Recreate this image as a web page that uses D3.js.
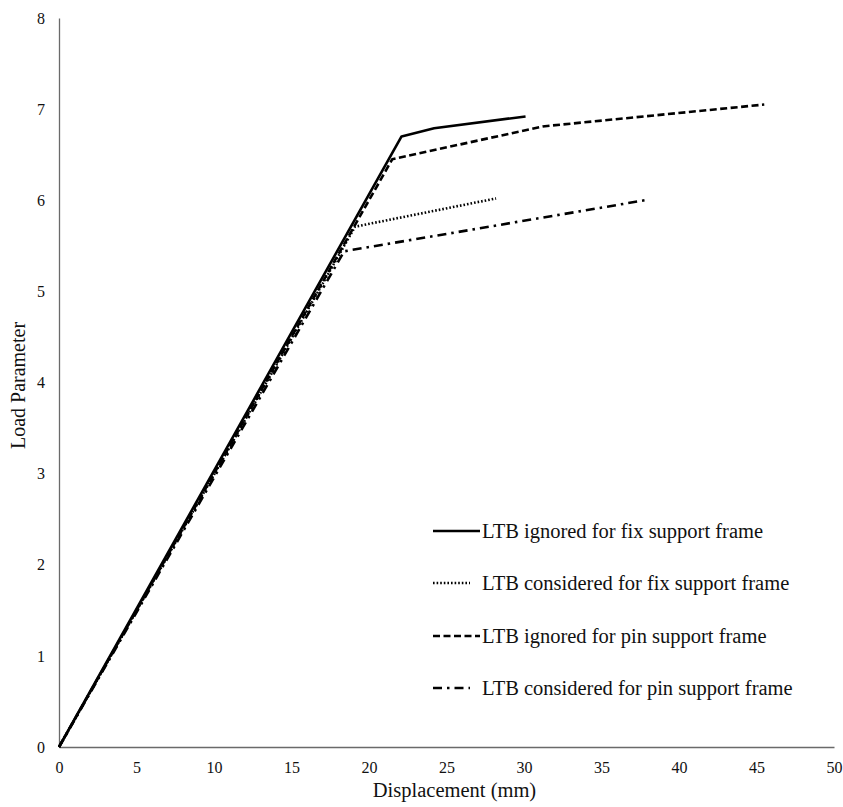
<!DOCTYPE html>
<html>
<head>
  <meta charset="utf-8">
  <script src="https://d3js.org/d3.v7.min.js"></script>
  <style>
  body { margin: 0; background: #ffffff; }
  * { font-family: "Liberation Serif", "Times New Roman", serif; }
  </style>
</head>
<body>
<div id="chart"></div>
<script>
// tick values
const xTicks = [0, 5, 10, 15, 20, 25, 30, 35, 40, 45, 50];
const yTicks = [0, 1, 2, 3, 4, 5, 6, 7, 8];

// series (displacement mm, load parameter)
const fixIgnoredX    = [0, 22.1, 24.2, 30.1];
const fixIgnoredY    = [0, 6.70, 6.79, 6.92];
const fixConsideredX = [0, 19.1, 28.2];
const fixConsideredY = [0, 5.71, 6.02];
const pinIgnoredX    = [0, 21.5, 31.2, 45.5];
const pinIgnoredY    = [0, 6.45, 6.81, 7.05];
const pinConsideredX = [0, 18.4, 37.8];
const pinConsideredY = [0, 5.44, 6.00];

const seriesNames = [
  "LTB ignored for fix support frame",
  "LTB considered for fix support frame",
  "LTB ignored for pin support frame",
  "LTB considered for pin support frame"
];

const series = [
  { name: seriesNames[0], xs: fixIgnoredX,    ys: fixIgnoredY,    dash: null,          cap: "butt" },
  { name: seriesNames[1], xs: fixConsideredX, ys: fixConsideredY, dash: "1.6,2",       cap: "butt" },
  { name: seriesNames[2], xs: pinIgnoredX,    ys: pinIgnoredY,    dash: "7,3.5",       cap: "butt" },
  { name: seriesNames[3], xs: pinConsideredX, ys: pinConsideredY, dash: "9,5,2.5,5",   cap: "butt" }
];

const W = 843, H = 807;
const margin = { top: 18, right: 9, bottom: 60, left: 59 };
const width = W - margin.left - margin.right;
const height = H - margin.top - margin.bottom;

const svg = d3.select("#chart")
  .append("svg")
  .attr("width", W)
  .attr("height", H);

const g = svg.append("g")
  .attr("transform", `translate(${margin.left},${margin.top})`);

const x = d3.scaleLinear().domain([0, 50]).range([0, width]);
const y = d3.scaleLinear().domain([0, 8]).range([height, 0]);

// x axis
const xAxis = g.append("g")
  .attr("transform", `translate(0,${height})`)
  .call(d3.axisBottom(x).tickValues(xTicks).tickSize(0).tickPadding(15).tickFormat(d3.format("d")));
xAxis.select(".domain").attr("stroke", "#6a6a6a").attr("stroke-width", 1.3);
xAxis.selectAll("text").style("font-size", "16px").attr("fill", "#111");

// y axis
const yAxis = g.append("g")
  .call(d3.axisLeft(y).tickValues(yTicks).tickSize(0).tickPadding(14).tickFormat(d3.format("d")));
yAxis.select(".domain").attr("stroke", "#6a6a6a").attr("stroke-width", 1.3);
yAxis.selectAll("text").style("font-size", "16px").attr("fill", "#111");

// axis titles
svg.append("text")
  .attr("x", margin.left + width / 2 + 8)
  .attr("y", 797)
  .attr("text-anchor", "middle")
  .style("font-size", "20.5px")
  .attr("fill", "#111")
  .text("Displacement (mm)");

svg.append("text")
  .attr("transform", `translate(25,${margin.top + height / 2 + 3}) rotate(-90)`)
  .attr("text-anchor", "middle")
  .style("font-size", "20px")
  .attr("fill", "#111")
  .text("Load Parameter");

// lines
const line = d3.line()
  .x(function(d) { return x(d[0]); })
  .y(function(d) { return y(d[1]); });

// draw the shorter/patterned ones first so the solid one sits on top
[3, 1, 2, 0].forEach(function(i) {
  const s = series[i];
  const pts = s.xs.map(function(v, k) { return [v, s.ys[k]]; });
  g.append("path")
    .datum(pts)
    .attr("fill", "none")
    .attr("stroke", "#000")
    .attr("stroke-width", 2.6)
    .attr("stroke-linejoin", "round")
    .attr("stroke-linecap", s.cap)
    .attr("stroke-dasharray", s.dash)
    .attr("d", line);
});

// legend
const legendX = 433, legendTextX = 482;
const legendRows = [531, 583, 636, 688];
const legendLen = [47, 37, 47, 37];
series.forEach(function(s, i) {
  svg.append("line")
    .attr("x1", legendX).attr("x2", legendX + legendLen[i])
    .attr("y1", legendRows[i]).attr("y2", legendRows[i])
    .attr("stroke", "#000")
    .attr("stroke-width", 2.6)
    .attr("stroke-dasharray", s.dash);
  svg.append("text")
    .attr("x", legendTextX)
    .attr("y", legendRows[i] + 6.5)
    .style("font-size", "20.5px")
    .attr("fill", "#111")
    .text(s.name);
});
</script>
</body>
</html>
